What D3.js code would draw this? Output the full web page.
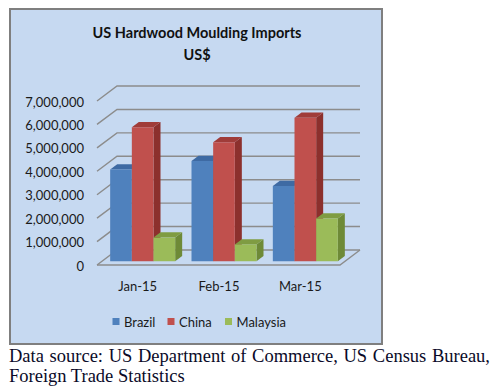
<!DOCTYPE html>
<html><head><meta charset="utf-8">
<script src="https://cdn.jsdelivr.net/npm/d3@7"></script>
<style>
html,body{margin:0;padding:0;background:#fff;}
#wrap{position:relative;width:501px;height:390px;overflow:hidden;}
.cap{position:absolute;left:9px;width:481px;font-family:"Liberation Serif","Times New Roman",serif;font-size:18.5px;color:#0a0a28;white-space:nowrap;line-height:20px;}
</style></head>
<body><div id="wrap"><svg id="c" width="501" height="390"></svg>
<div class="cap" id="l1" style="top:346px;text-align:justify;text-align-last:justify;">Data source: US Department of Commerce, US Census Bureau,</div>
<div class="cap" style="top:366px;">Foreign Trade Statistics</div>
</div>
<script>
const months = ["Jan-15","Feb-15","Mar-15"];
const seriesNames = ["Brazil","China","Malaysia"];
const brazil = [3920000, 4280000, 3210000];
const china = [5720000, 5080000, 6130000];
const malaysia = [1010000, 720000, 1830000];
const yTicks = [0,1000000,2000000,3000000,4000000,5000000,6000000,7000000];
const colors = {
  Brazil:  {front:"#4f81bd", side:"#385d8a", top:"#3e6aa3"},
  China:   {front:"#c0504d", side:"#8c302d", top:"#a03c39"},
  Malaysia:{front:"#9bbb59", side:"#6e8a37", top:"#7f9c42"}
};
const values = {Brazil: brazil, China: china, Malaysia: malaysia};

const svg = d3.select("#c");
const fontUI = "Lato, 'Open Sans', sans-serif";

// chart area
svg.append("rect").attr("x",10).attr("y",9).attr("width",372).attr("height",335)
  .attr("fill","#c6d9f1").attr("stroke","#7f7f7f").attr("stroke-width",2);

// title
svg.append("text").attr("x",197).attr("y",38).attr("text-anchor","middle")
  .attr("font-family",fontUI).attr("font-weight","bold").attr("font-size",14.5).attr("fill","#111")
  .text("US Hardwood Moulding Imports");
svg.append("text").attr("x",197).attr("y",60).attr("text-anchor","middle")
  .attr("font-family",fontUI).attr("font-weight","bold").attr("font-size",14.5).attr("fill","#111")
  .text("US$");

// 3D projection
const DX = 20, DY = 15;
const x = d3.scaleBand().domain(months).range([97, 341]);
const y = d3.scaleLinear().domain([0, 7000000]).range([265, 101]);
const inner = d3.scaleBand().domain(seriesNames).range([0, 65]);
const P = (xf, v, d) => [xf + DX*d, y(v) - DY*d];
const xEnd = x.range()[1] - 1;

const grid = svg.append("g").attr("stroke","#8c8c8c").attr("stroke-width",1.4).attr("fill","none");
yTicks.forEach(t => {
  const a = P(97, t, 0), b = P(97, t, 1), c = P(xEnd, t, 1);
  grid.append("path").attr("d", d3.line()([a, b, c]));
});
// floor edges
const f1 = P(97,0,0), f2 = P(xEnd,0,0), f3 = P(xEnd,0,1);
svg.append("path").attr("d", d3.line()([f1,f2,f3])).attr("fill","none")
  .attr("stroke","#8c8c8c").attr("stroke-width",1.4);

// y labels
svg.append("g").selectAll("text").data(yTicks).join("text")
  .attr("x",84).attr("y",d => y(d)+5.5).attr("text-anchor","end")
  .attr("font-family",fontUI).attr("font-size",13).attr("fill","#1a1a1a")
  .text(d => d3.format(",")(d));

// bars
const D0 = 0.25, D1 = 0.6;
const bars = svg.append("g");
months.forEach((m, i) => {
  const g0 = x(m) + (x.bandwidth() - 65)/2;
  seriesNames.forEach(s => {
    const v = values[s][i];
    const xl = g0 + inner(s), xr = xl + inner.bandwidth();
    const c = colors[s];
    const fbl = P(xl,0,D0), fbr = P(xr,0,D0), ftl = P(xl,v,D0), ftr = P(xr,v,D0);
    const bbr = P(xr,0,D1), btl = P(xl,v,D1), btr = P(xr,v,D1);
    bars.append("path").attr("d", d3.line()([fbr, ftr, btr, bbr]) + "Z").attr("fill", c.side);
    bars.append("path").attr("d", d3.line()([ftl, ftr, btr, btl]) + "Z").attr("fill", c.top);
    bars.append("path").attr("d", d3.line()([fbl, fbr, ftr, ftl]) + "Z").attr("fill", c.front);
  });
});

// category labels
svg.append("g").selectAll("text").data(months).join("text")
  .attr("x", d => x(d) + x.bandwidth()/2).attr("y", 291).attr("text-anchor","middle")
  .attr("font-family",fontUI).attr("font-size",13).attr("fill","#1a1a1a")
  .text(d => d);

// legend
const legX = [112.5, 167.5, 225];
const leg = svg.append("g");
seriesNames.forEach((s, i) => {
  leg.append("rect").attr("x", legX[i]).attr("y", 318).attr("width",7).attr("height",7).attr("fill", colors[s].front);
  leg.append("text").attr("x", legX[i]+11.5).attr("y", 327).attr("font-family",fontUI)
    .attr("font-size",13).attr("fill","#1a1a1a").text(s);
});
</script>
</body></html>
